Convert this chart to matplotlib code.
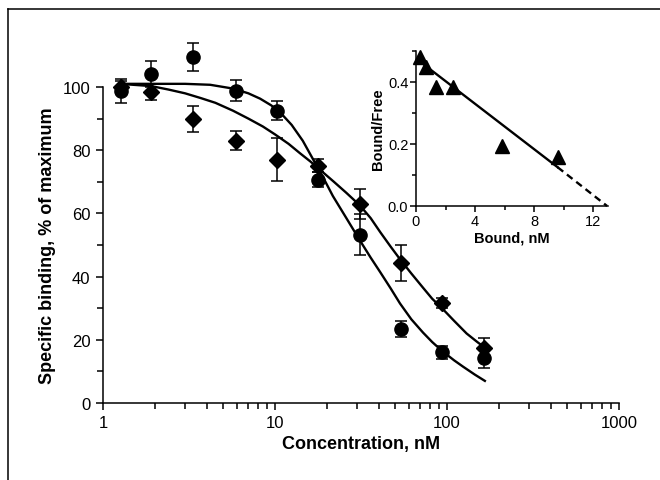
import matplotlib
matplotlib.use("Agg")
import matplotlib.pyplot as plt
from matplotlib.lines import Line2D
from matplotlib.ticker import FixedLocator, NullFormatter

plt.rcParams['font.family'] = ['Liberation Sans', 'DejaVu Sans']

# ---- main panel data ----
conc = [1.28, 1.9, 3.33, 5.9, 10.3, 17.8, 31.2, 54, 93.5, 164]
circ_y = [98.7, 104.1, 109.5, 98.8, 92.5, 70.7, 53.2, 23.4, 16.0, 14.2]
circ_err = [3.7, 4.2, 4.5, 3.3, 3.0, 2.5, 6.5, 2.5, 2.0, 3.2]
diam_y = [100.0, 98.4, 89.9, 83.0, 77.0, 75.1, 63.0, 44.3, 31.6, 17.3]
diam_err = [2.0, 2.5, 4.0, 3.0, 6.8, 2.0, 4.8, 5.6, 1.5, 3.2]

# fitted curves
circ_fit_x = [1.25, 3, 4.2, 5.7, 7, 8.2, 9.5, 10.7, 12.5, 14.5, 16.5, 19, 21.7, 26,
              31.2, 36, 40.8, 47, 53.3, 62, 72.5, 82, 93.5, 110, 124, 145, 166]
circ_fit_y = [101, 101, 100.7, 99.5, 98, 96.3, 94.2, 92, 88, 83, 77.5, 71.5, 65.5, 58.5,
              51.4, 46, 41.5, 36.3, 31.5, 26.5, 22.3, 19.3, 16.5, 13.5, 11.5, 9, 7]
diam_fit_x = [1.25, 1.9, 2.4, 3, 3.7, 4.5, 5.7, 7, 8.5, 10, 12, 14, 16, 19, 22, 26,
              31.2, 36, 41, 47, 53.3, 62, 72.5, 82, 93.5, 110, 130, 150, 166]
diam_fit_y = [101, 100.3, 99.2, 98, 96.5, 95, 92.5, 90, 87.5, 85, 82, 79, 76.5, 73, 70, 66.5,
              62.5, 58.5, 54, 49.5, 45.5, 41, 36.5, 33, 30, 26, 22, 19.3, 17.5]

main_xticks = [1, 10, 100, 1000]
main_xticklabels = ["1", "10", "100", "1000"]
main_yticks = [0, 20, 40, 60, 80, 100]

# ---- inset (Scatchard) data ----
bound = [0.27, 0.66, 1.36, 2.49, 5.8, 9.65]
bound_free = [0.48, 0.447, 0.383, 0.383, 0.193, 0.157]
fit_solid_x = [0.3, 9.6]
fit_solid_y = [0.465, 0.125]
fit_dash_x = [9.6, 12.95]
fit_dash_y = [0.125, 0.0]

fig = plt.figure(figsize=(6.6, 4.81), dpi=100)

# frame lines (partial border)
fig.add_artist(Line2D([8/660, 8/660], [1 - 10/481, 0], color='black', lw=1.1,
                      transform=fig.transFigure))
fig.add_artist(Line2D([8/660, 1], [1 - 10/481, 1 - 10/481], color='black', lw=1.1,
                      transform=fig.transFigure))

ax = fig.add_axes([103/660, 1 - 404/481, (619 - 103)/660, (404 - 88)/481])
ax.set_xscale('log')
ax.set_xlim(1, 1000)
ax.set_ylim(0, 100)
for s in ['top', 'right']:
    ax.spines[s].set_visible(False)
for s in ['left', 'bottom']:
    ax.spines[s].set_linewidth(1.1)

ax.plot(circ_fit_x, circ_fit_y, color='black', lw=1.7, clip_on=False, zorder=2)
ax.plot(diam_fit_x, diam_fit_y, color='black', lw=1.7, clip_on=False, zorder=2)

for y, e, m, ms in [(diam_y, diam_err, 'D', 8.5), (circ_y, circ_err, 'o', 9.5)]:
    cont = ax.errorbar(conc, y, yerr=e, fmt=m, color='black', ms=ms, capsize=4,
                       elinewidth=1.1, capthick=1.1, clip_on=False, zorder=3)
    for art in cont.lines[1] + cont.lines[2]:
        art.set_clip_on(False)

ax.set_xticks(main_xticks)
ax.set_xticklabels(main_xticklabels)
ax.set_yticks(main_yticks)
ax.yaxis.set_minor_locator(FixedLocator([10, 30, 50, 70, 90]))
ax.yaxis.set_minor_formatter(NullFormatter())
ax.xaxis.set_minor_formatter(NullFormatter())
ax.tick_params(axis='both', which='major', direction='out', length=5, width=1.1,
               labelsize=12, pad=4)
ax.tick_params(axis='both', which='minor', direction='out', length=4, width=1.1)
ax.set_xlabel("Concentration, nM", fontsize=13, fontweight='bold', labelpad=3)
ax.set_ylabel("Specific binding, % of maximum", fontsize=13, fontweight='bold', labelpad=5)

# inset
ins = fig.add_axes([416/660, 1 - 207/481, (607.8 - 416)/660, (207 - 52)/481])
ins.set_xlim(0, 13)
ins.set_ylim(0, 0.5)
for s in ['top', 'right']:
    ins.spines[s].set_visible(False)
for s in ['left', 'bottom']:
    ins.spines[s].set_linewidth(1.1)
ins.plot(fit_solid_x, fit_solid_y, color='black', lw=1.7, clip_on=False)
ins.plot(fit_dash_x, fit_dash_y, color='black', lw=1.7, ls=(0, (3, 2)), clip_on=False)
ins.plot(bound, bound_free, '^', color='black', ms=10, clip_on=False, zorder=3)
ins.set_xticks([0, 4, 8, 12])
ins.xaxis.set_minor_locator(FixedLocator([2, 6, 10]))
ins.set_yticks([0.0, 0.2, 0.4])
ins.set_yticklabels(["0.0", "0.2", "0.4"])
ins.yaxis.set_minor_locator(FixedLocator([0.1, 0.3, 0.5]))
ins.tick_params(axis='both', which='major', direction='out', length=4, width=1.1,
                labelsize=10.5, pad=1.5)
ins.tick_params(axis='both', which='minor', direction='out', length=3, width=1.1)
ins.set_xlabel("Bound, nM", fontsize=10.5, fontweight='bold', labelpad=2)
ins.set_ylabel("Bound/Free", fontsize=10.5, fontweight='bold', labelpad=2)

fig.savefig("out.png", dpi=100)
